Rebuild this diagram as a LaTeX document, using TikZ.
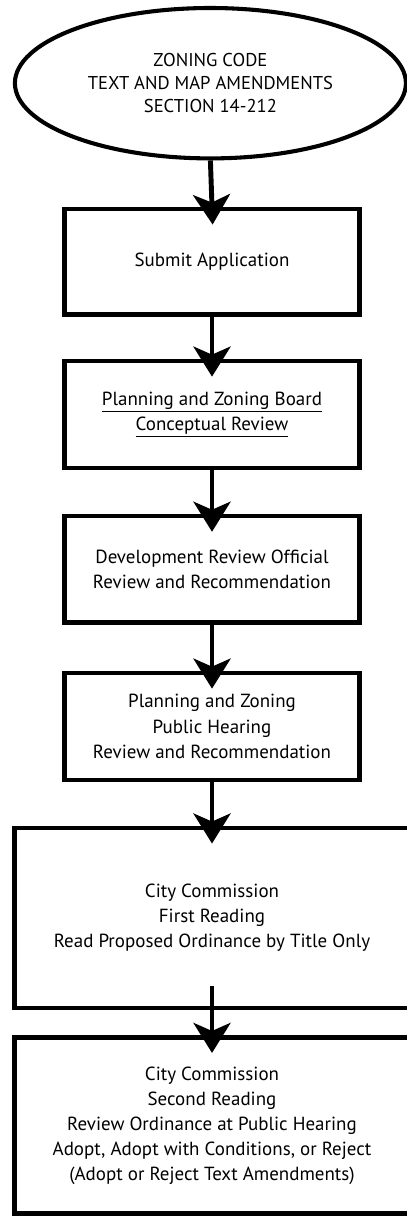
\documentclass[tikz,border=0pt]{standalone}
\usepackage{fontspec}
\setmainfont{PT Sans}
\usetikzlibrary{arrows,arrows.meta,shapes,positioning}

\tikzset{
  stepbox/.style={draw, line width=3.2pt, minimum width=7.375cm, inner sep=0pt,
    align=center, font=\fontsize{13.5}{17.8}\selectfont},
  widebox/.style={stepbox, line width=3.5pt, minimum width=9.875cm},
  flow/.style={-{Stealth[length=0.75cm,width=0.925cm,inset=0.2cm]},
    line width=3.5pt, shorten >=-0.45cm},
}

\begin{document}
\begin{tikzpicture}[scale=1.0]
  \useasboundingbox (0,0) rectangle (10.15,-30.425); %Page frame

  \node[draw, ellipse, line width=2.9pt, minimum width=9.775cm, minimum height=3.76cm,
    inner sep=0pt, align=center, font=\fontsize{13.2}{16.4}\selectfont]
    (code) at (5.26,-2.08) {ZONING CODE\\TEXT AND MAP AMENDMENTS\\SECTION 14-212}; %Start

  \node[stepbox, minimum height=2.64cm] (submit) at (5.3,-6.54) {Submit Application};
  \node[stepbox, minimum height=2.675cm] (pzb) at (5.3,-10.36)
    {\underline{Planning and Zoning Board}\\\underline{Conceptual Review}};
  \node[stepbox, minimum height=2.66cm] (dro) at (5.3,-14.23)
    {Development Review Official\\Review and Recommendation};
  \node[stepbox, minimum height=2.675cm] (pzh) at (5.3,-18.16)
    {Planning and Zoning\\Public Hearing\\Review and Recommendation};

  \node[widebox, minimum height=4.5cm] (first) at (5.3,-22.95)
    {City Commission\\First Reading\\Read Proposed Ordinance by Title Only};
  \node[widebox, minimum height=4.41cm] (second) at (5.3,-28.14)
    {City Commission\\Second Reading\\Review Ordinance at Public Hearing\\
     Adopt, Adopt with Conditions, or Reject\\(Adopt or Reject Text Amendments)};

  \draw[flow] (code.south) -- (submit.north);
  \draw[flow] (submit.south) -- (pzb.north);
  \draw[flow] (pzb.south) -- (dro.north);
  \draw[flow] (dro.south) -- (pzh.north);
  \draw[flow] (pzh.south) -- (first.north);
  \draw[flow] ([yshift=0.62cm]first.south) -- (second.north); %starts inside the box
\end{tikzpicture}
\end{document}
